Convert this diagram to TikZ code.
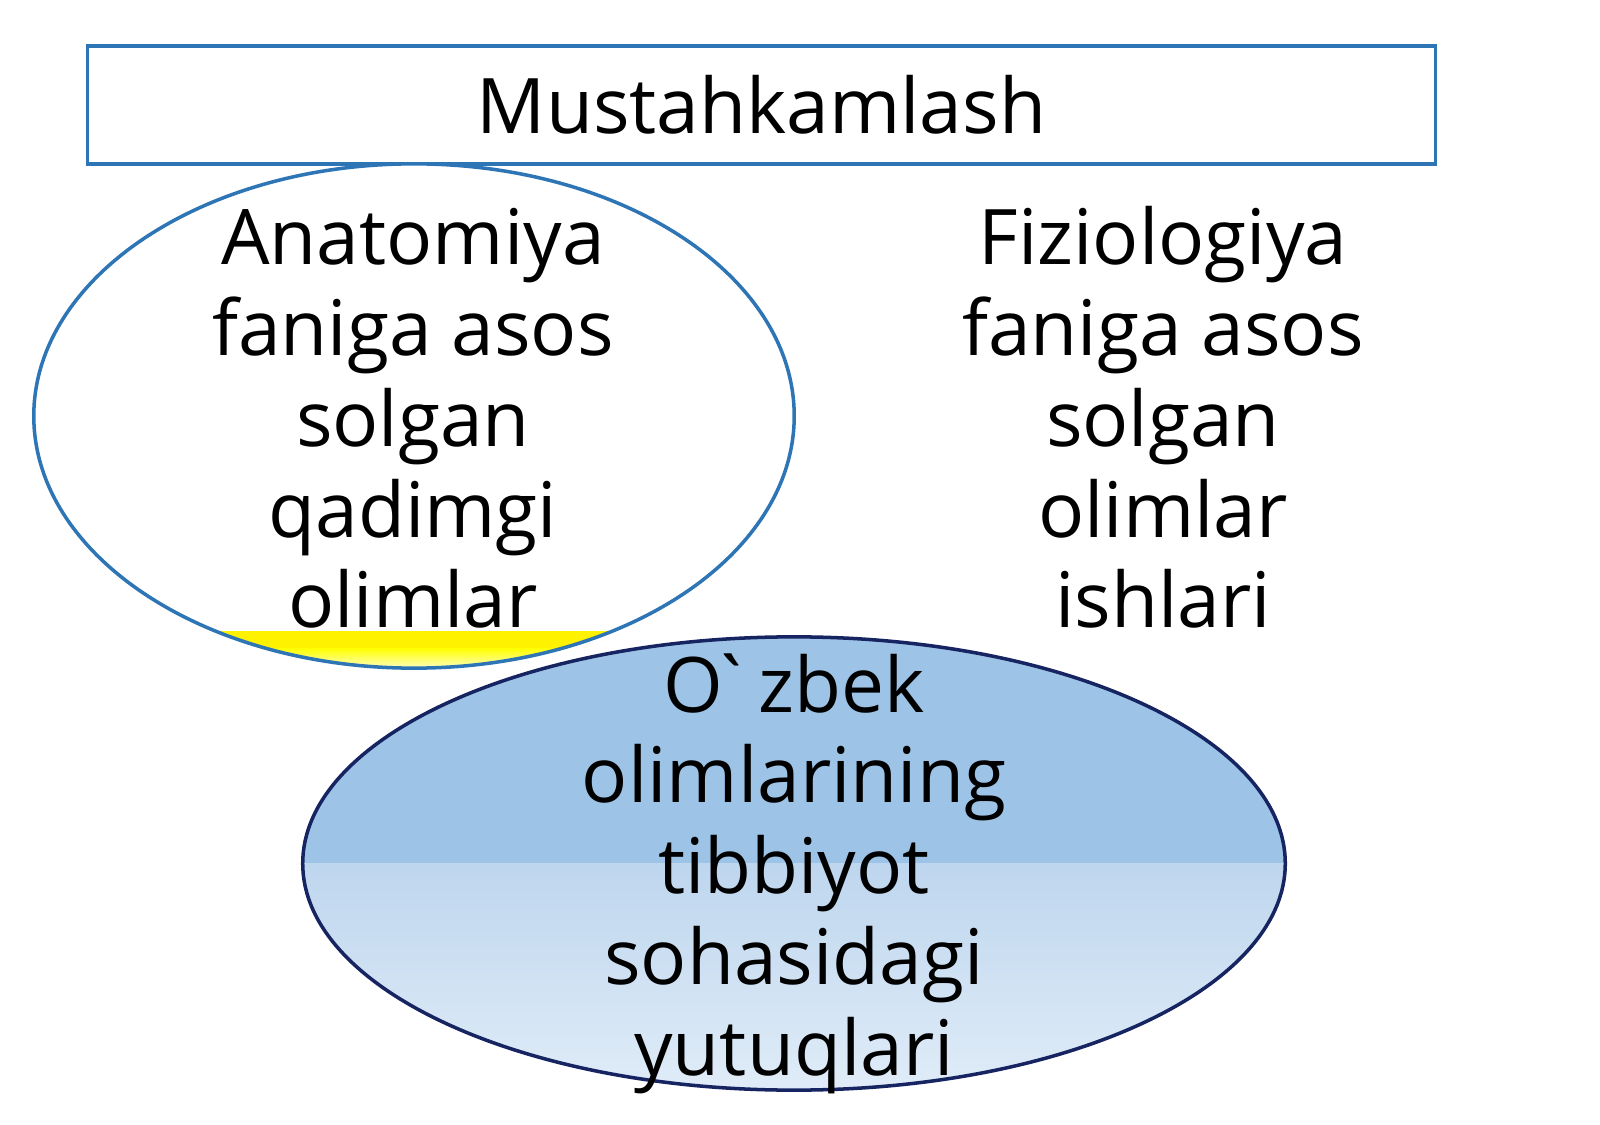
\documentclass[tikz,border=0pt]{standalone}
\usepackage{fontspec}
\setmainfont{Open Sans}[Ligatures=TeXOff]
\usetikzlibrary{shapes.geometric}
\definecolor{boxblue}{RGB}{46,117,182}
\definecolor{navy}{RGB}{22,36,98}
\definecolor{skytop}{RGB}{157,195,230}
\definecolor{skymid}{RGB}{190,214,238}
\definecolor{skylow}{RGB}{224,236,248}

\begin{document}
\begin{tikzpicture}[x=0.01cm, y=-0.01cm,
            every node/.style={font=\fontsize{21.8pt}{26pt}\selectfont},
            lbl/.style={anchor=base, inner sep=0pt},
            oval/.style={ellipse, inner sep=0pt, line width=1pt}]
        \useasboundingbox (0,0) rectangle (1600,1125);
        \node[draw=boxblue, line width=1pt, minimum width=13.47cm, minimum height=1.18cm] (title) at (761.5,105) {Mustahkamlash};
        \node[oval, draw=boxblue, fill=white, minimum width=7.6cm, minimum height=5.04cm,
              path picture={\fill[yellow] ([yshift=0.37cm]path picture bounding box.south west) rectangle ([yshift=0.2cm]path picture bounding box.south east);
                 \shade[top color=yellow, bottom color=yellow!25]
                 ([yshift=0.2cm]path picture bounding box.south west) rectangle (path picture bounding box.south east);}]
              (ana) at (414,416) {};
        \node[oval, draw=navy, minimum width=9.82cm, minimum height=4.53cm,
              path picture={\fill[skytop] (path picture bounding box.north west) rectangle (path picture bounding box.east);
                 \shade[top color=skymid, bottom color=skylow] (path picture bounding box.west) rectangle (path picture bounding box.south east);}]
              (uzb) at (794,863.5) {};
        \foreach \w [count=\i] in {Anatomiya, faniga asos, solgan, qadimgi, olimlar}
            \node[lbl] (ana\i) at (413,{265+90.75*(\i-1)}) {\w};
        \foreach \w [count=\i] in {Fiziologiya, faniga asos, solgan, olimlar, ishlari}
            \node[lbl] (fiz\i) at (1163,{265+90.75*(\i-1)}) {\w};
        \foreach \w [count=\i] in {O\kern-0.18em`\kern0.06em zbek, olimlarining, tibbiyot, sohasidagi, yutuqlari}
            \node[lbl] (uzb\i) at (794,{712+90.75*(\i-1)}) {\w};
\end{tikzpicture}
\end{document}
